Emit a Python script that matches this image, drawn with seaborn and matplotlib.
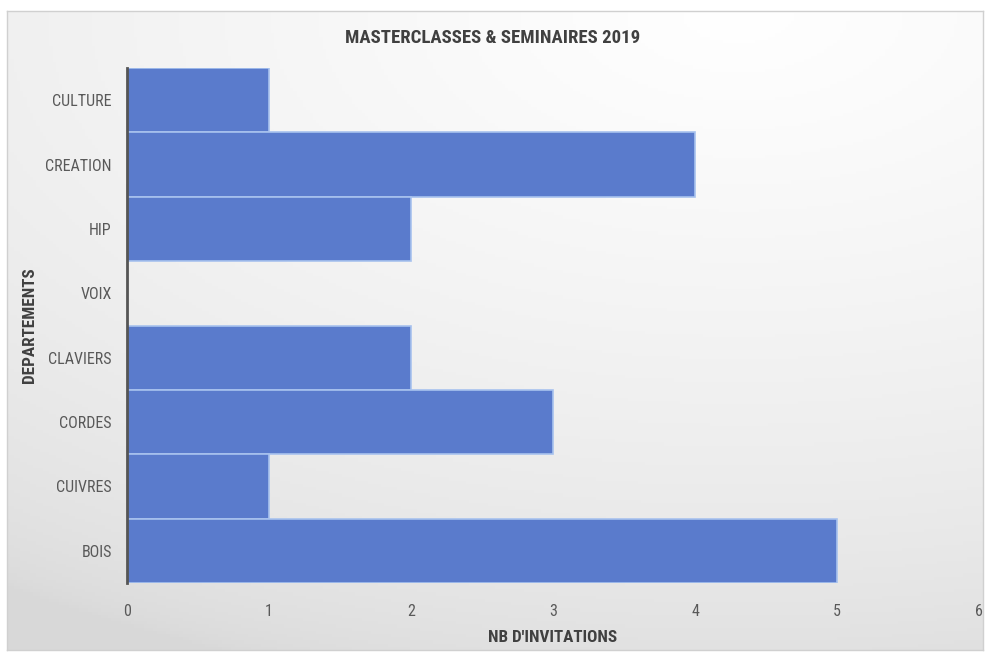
import numpy as np
import pandas as pd
import matplotlib
matplotlib.use("Agg")
import matplotlib.pyplot as plt
import seaborn as sns

# chart data (top to bottom as shown)
departements = ["CULTURE", "CREATION", "HIP", "VOIX", "CLAVIERS", "CORDES", "CUIVRES", "BOIS"]
invitations = [1, 4, 2, 0, 2, 3, 1, 5]
x_ticks = [0, 1, 2, 3, 4, 5, 6]

sns.set_theme(style="white")
plt.rcParams["font.family"] = ["Roboto Condensed", "Roboto", "DejaVu Sans"]

df = pd.DataFrame({"departement": departements, "invitations": invitations})

fig = plt.figure(figsize=(9.86, 6.58), dpi=100, facecolor="white")

# gradient background panel with a thin grey frame
bg = fig.add_axes([7 / 986, 8 / 658, 976 / 986, 639 / 658], zorder=0)
xx, yy = np.meshgrid(np.linspace(0, 1, 300), np.linspace(0, 1, 200))
shade = 0.85 + 0.15 * np.clip(1 - np.hypot((0.75 - xx) * 0.9, (1 - yy) * 1.1) / 1.2, 0, 1) ** 0.6
bg.imshow(np.dstack([shade, shade, shade]), extent=[0, 1, 0, 1], aspect="auto", origin="lower")
bg.set_xticks([])
bg.set_yticks([])
for s in bg.spines.values():
    s.set_color("#d0d0d0")
    s.set_linewidth(1)

ax = fig.add_axes([127 / 986, 1 - 583 / 658, (979 - 127) / 986, (583 - 68) / 658], zorder=1)
ax.set_facecolor("none")

sns.barplot(data=df, x="invitations", y="departement", order=departements,
            orient="h", width=1.0, color="#5a7bcc", saturation=1,
            edgecolor="#a8c2ee", linewidth=1.2, ax=ax)

ax.set_xlim(0, 6)
ax.set_ylim(7.5, -0.5)
ax.set_xticks(x_ticks)
ax.tick_params(axis="both", length=0, labelsize=11.5, colors="#595959")
ax.tick_params(axis="x", pad=15)
ax.tick_params(axis="y", pad=11)
for name in ["top", "right", "bottom"]:
    ax.spines[name].set_visible(False)
ax.spines["left"].set_color("#555555")
ax.spines["left"].set_linewidth(2)
ax.grid(False)

ax.set_xlabel("NB D'INVITATIONS", fontsize=12.3, fontweight="bold", color="#404040")
ax.set_ylabel("DEPARTEMENTS", fontsize=12.3, fontweight="bold", color="#404040")
ax.xaxis.set_label_coords(0.5, -0.092)
ax.yaxis.set_label_coords(-0.106, 0.5)
fig.text(0.5, 1 - 38 / 658, "MASTERCLASSES & SEMINAIRES 2019", ha="center", va="center",
         fontsize=13.5, fontweight="bold", color="#404040")

fig.savefig("out.png", dpi=100, facecolor="white")
